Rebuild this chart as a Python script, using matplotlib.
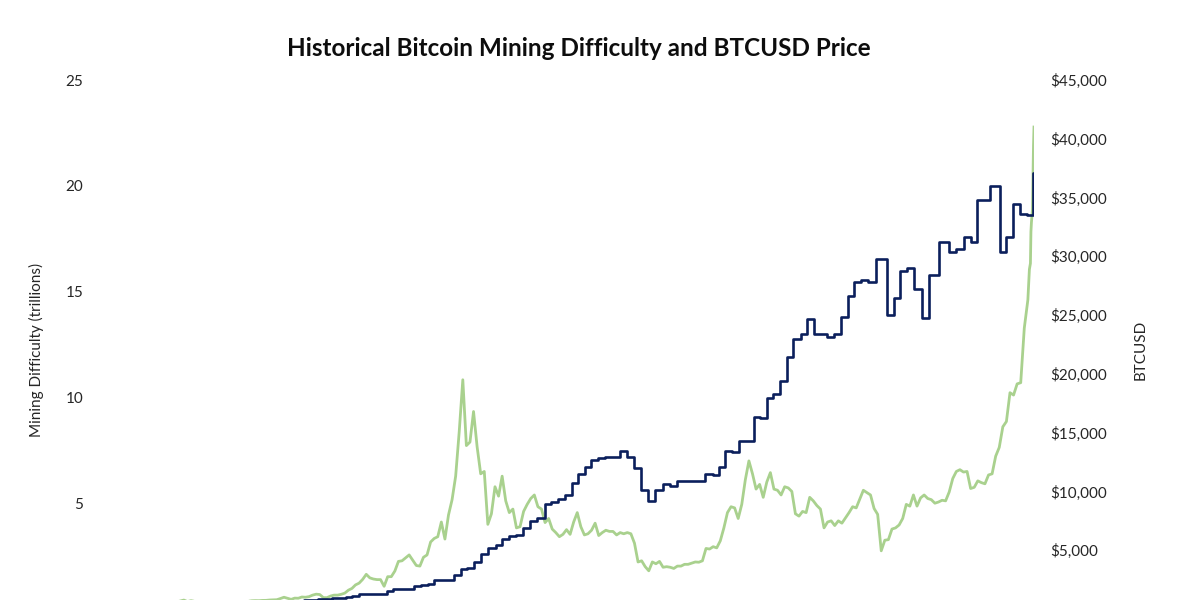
import pandas as pd
import matplotlib
matplotlib.use('Agg')
from matplotlib import pyplot as plt
from matplotlib.ticker import FuncFormatter

# weekly BTCUSD closes (Sundays from 2016-01-03)
price_2016 = [432, 448, 385, 392, 378, 376, 407, 438, 432, 405, 412, 410, 416,
              420, 420, 428, 460, 450, 460, 457, 440, 535, 575, 680, 760, 630,
              705, 650, 680, 660, 625, 590, 570, 580, 575, 610, 608, 610, 602,
              612, 618, 640, 655, 700, 712, 705, 730, 735, 765, 775, 790, 890]
price_2017 = [1000, 910, 820, 925, 915, 1020, 1000, 1050, 1180, 1260, 1230, 970, 965,
              1100, 1180, 1180, 1250, 1350, 1600, 1750, 2050, 2200, 2520, 2950, 2650, 2550,
              2500, 2500, 1930, 2750, 2750, 3230, 4050, 4100, 4350, 4600, 4150, 3700, 3650,
              4400, 4600, 5700, 6000, 6150, 7400, 5950, 8000, 9300, 11300, 15100, 19500, 13900, 14200]
price_2018 = [16800, 13800, 11500, 11700, 7200, 8100, 10400, 9600, 11300, 9200, 8200, 8500,
              6900, 7000, 8300, 8900, 9400, 9700, 8700, 8500, 7350, 7700, 6800, 6500, 6150,
              6350, 6750, 6350, 7400, 8200, 7000, 6300, 6400, 6700, 7300, 6250, 6500, 6700, 6600,
              6600, 6300, 6500, 6400, 6500, 6400, 5600, 4000, 4100, 3600, 3250, 4000, 3850]
price_2019 = [4050, 3550, 3600, 3550, 3450, 3650, 3650, 3800, 3800, 3900, 4000, 3980, 4100,
              5150, 5100, 5300, 5200, 5800, 6900, 8200, 8700, 8600, 7700, 8900, 11000, 12600,
              11500, 10200, 10600, 9500, 10800, 11600, 10200, 10100, 9700, 10400, 10300, 10000, 8100,
              7900, 8300, 8200, 9500, 9200, 8800, 8500, 6900, 7400, 7500, 7100, 7500, 7300]
price_2020 = [7750, 8200, 8700, 8600, 9350, 10100, 9900, 9700, 8550, 8050, 4950, 5850, 5900,
              6800, 6900, 7150, 7700, 8900, 8750, 9700, 8750, 9450, 9700, 9400, 9300, 9000,
              9100, 9250, 9200, 9950, 11100, 11700, 11850, 11650, 11700, 10250, 10350, 10900, 10750,
              10650, 11400, 11500, 13000, 13750, 15500, 15950, 18400, 18200, 19150, 19250, 23900, 26300]
# daily closes at the very end
end_dates = ['2020-12-30', '2021-01-01', '2021-01-02', '2021-01-03', '2021-01-05',
             '2021-01-06', '2021-01-07', '2021-01-08']
end_prices = [28900, 29400, 32100, 32900, 34000, 36800, 39400, 41000]

# difficulty adjustments (trillions)
diff_dates = ['2016-01-01', '2016-01-12', '2016-01-25', '2016-02-07', '2016-02-20', '2016-03-04',
              '2016-03-17', '2016-03-31', '2016-04-13', '2016-04-27', '2016-05-10', '2016-05-23',
              '2016-06-05', '2016-06-18', '2016-07-01', '2016-07-14', '2016-07-28', '2016-08-10',
              '2016-08-23', '2016-09-06', '2016-09-19', '2016-10-02', '2016-10-15', '2016-10-29',
              '2016-11-10', '2016-11-24', '2016-12-07', '2016-12-20',
              '2017-01-02', '2017-01-16', '2017-01-29', '2017-02-10', '2017-02-24', '2017-03-09',
              '2017-03-22', '2017-04-05', '2017-04-19', '2017-05-02', '2017-05-15', '2017-05-28',
              '2017-06-10', '2017-06-24', '2017-07-08', '2017-07-21', '2017-08-03', '2017-08-17',
              '2017-08-30', '2017-09-12', '2017-09-26', '2017-10-09', '2017-10-22', '2017-11-04',
              '2017-11-17', '2017-11-30', '2017-12-13', '2017-12-26',
              '2018-01-08', '2018-01-22', '2018-02-05', '2018-02-19', '2018-03-04', '2018-03-18',
              '2018-03-31', '2018-04-14', '2018-04-27', '2018-05-11', '2018-05-26', '2018-06-08',
              '2018-06-22', '2018-07-05', '2018-07-18', '2018-07-31', '2018-08-13', '2018-08-25',
              '2018-09-08', '2018-09-22', '2018-10-07', '2018-10-20', '2018-11-03', '2018-11-17',
              '2018-11-30', '2018-12-15', '2018-12-29',
              '2019-01-12', '2019-01-26', '2019-02-09', '2019-02-23', '2019-03-09', '2019-03-23',
              '2019-04-06', '2019-04-20', '2019-05-03', '2019-05-15', '2019-05-28', '2019-06-10',
              '2019-06-24', '2019-07-09', '2019-07-22', '2019-08-04', '2019-08-17', '2019-08-30',
              '2019-09-12', '2019-09-25', '2019-10-09', '2019-10-22', '2019-11-04', '2019-11-17',
              '2019-11-30', '2019-12-13', '2019-12-27',
              '2020-01-09', '2020-01-22', '2020-02-04', '2020-02-18', '2020-03-04', '2020-03-26',
              '2020-04-08', '2020-04-21', '2020-05-05', '2020-05-19', '2020-06-03', '2020-06-16',
              '2020-07-06', '2020-07-25', '2020-08-08', '2020-08-24', '2020-09-06', '2020-09-18',
              '2020-10-14', '2020-11-02', '2020-11-15', '2020-11-28', '2020-12-12', '2020-12-25',
              '2021-01-06', '2021-01-08']
diff_vals = [0.104, 0.114, 0.121, 0.144, 0.159, 0.164, 0.166, 0.178, 0.178, 0.194, 0.195, 0.199,
             0.210, 0.214, 0.218, 0.213, 0.213, 0.220, 0.225, 0.225, 0.238, 0.241, 0.254, 0.254,
             0.282, 0.286, 0.311, 0.317,
             0.318, 0.337, 0.393, 0.422, 0.440, 0.460, 0.476, 0.500, 0.521, 0.560, 0.596, 0.711,
             0.709, 0.709, 0.709, 0.860, 0.924, 0.944, 0.923, 1.104, 1.124, 1.196, 1.347, 1.365,
             1.347, 1.590, 1.873, 1.931,
             2.228, 2.603, 2.874, 3.007, 3.290, 3.462, 3.511, 3.840, 4.143, 4.306, 4.940, 5.077,
             5.178, 5.364, 5.949, 6.390, 6.727, 7.020, 7.152, 7.184, 7.184, 7.454, 7.184, 6.653,
             5.646, 5.106, 5.618,
             5.884, 5.814, 6.061, 6.068, 6.071, 6.071, 6.379, 6.353, 6.704, 7.460, 7.409, 7.934,
             7.934, 9.064, 9.013, 9.985, 10.183, 10.771, 11.890, 12.760, 13.008, 13.692, 12.973, 12.980,
             12.876, 12.980, 13.798,
             14.776, 15.467, 15.546, 15.467, 16.552, 13.912, 14.715, 15.958, 16.104, 15.138, 13.733, 15.784,
             17.345, 16.848, 17.004, 17.559, 17.345, 19.314, 19.997, 16.848, 17.596, 19.158, 18.670, 18.599,
             20.608, 20.608]

left_ticks = [5, 10, 15, 20, 25]
right_ticks = [5000, 10000, 15000, 20000, 25000, 30000, 35000, 40000, 45000]

weekly = price_2016 + price_2017 + price_2018 + price_2019 + price_2020
price = pd.Series(weekly, index=pd.date_range('2016-01-03', periods=len(weekly), freq='7D'))
price = pd.concat([price, pd.Series(end_prices, index=pd.to_datetime(end_dates))])
diff = pd.Series(diff_vals, index=pd.to_datetime(diff_dates))

plt.rcParams['font.family'] = ['Lato', 'DejaVu Sans']

fig = plt.figure(figsize=(12, 6), dpi=100)
# bottom of the plot area (the zero line) sits just below the image edge
ax = fig.add_axes([97/1200, -9/600, 937/1200, 529/600])
ax2 = ax.twinx()

ax.step(diff.index, diff.values, where='post', color='#0b1f5c', lw=1.9)
ax2.plot(price.index, price.values, color='#a9d18e', lw=2.0)

ax.set_xlim(pd.Timestamp('2016-01-01'), pd.Timestamp('2021-01-08'))
ax.set_ylim(0, 25)
ax2.set_ylim(0, 45000)
ax.set_yticks(left_ticks)
ax2.set_yticks(right_ticks)
ax2.yaxis.set_major_formatter(FuncFormatter(lambda v, p: '${:,.0f}'.format(v)))

for a in (ax, ax2):
    for s in a.spines.values():
        s.set_visible(False)
    a.tick_params(length=0, labelsize=11, colors='#262626')
ax.tick_params(axis='y', pad=10)
ax2.tick_params(axis='y', pad=12)
ax.set_xticks([])

ax.set_zorder(2)
ax.patch.set_visible(False)

ax.set_ylabel('Mining Difficulty (trillions)', fontsize=11, color='#262626')
ax2.set_ylabel('BTCUSD', fontsize=11, color='#262626')
ax.yaxis.set_label_coords(-0.057, 0.49)
ax2.yaxis.set_label_coords(1.106, 0.49)

fig.text(0.482, 0.919, 'Historical Bitcoin Mining Difficulty and BTCUSD Price',
         ha='center', va='center', fontsize=17.5, fontweight='bold', color='#0d0d0d')

fig.savefig('out.png', dpi=100)
